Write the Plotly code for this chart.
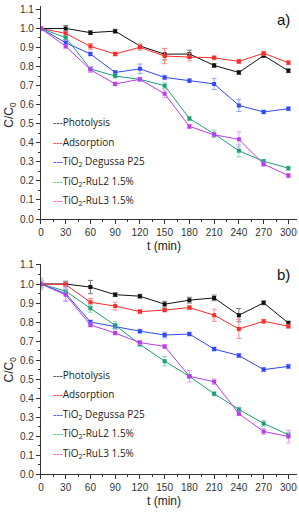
import plotly.graph_objects as go

t = [0, 30, 60, 90, 120, 150, 180, 210, 240, 270, 300]
x_ticks = [0, 30, 60, 90, 120, 150, 180, 210, 240, 270, 300]
y_ticks = [0.0, 0.1, 0.2, 0.3, 0.4, 0.5, 0.6, 0.7, 0.8, 0.9, 1.0, 1.1]

names = ["Photolysis", "Adsorption", "TiO<sub>2</sub> Degussa P25",
         "TiO<sub>2</sub>-RuL2 1.5%", "TiO<sub>2</sub>-RuL3 1.5%"]

# panel a)
a_photo = [1.0, 1.0, 0.978, 0.986, 0.908, 0.865, 0.866, 0.806, 0.769, 0.858, 0.778]
a_adsor = [1.0, 0.974, 0.906, 0.866, 0.901, 0.855, 0.85, 0.846, 0.827, 0.87, 0.82]
a_p25 = [1.0, 0.925, 0.866, 0.769, 0.788, 0.743, 0.726, 0.709, 0.596, 0.562, 0.579]
a_rul2 = [1.0, 0.952, 0.788, 0.75, 0.733, 0.70, 0.527, 0.447, 0.358, 0.303, 0.267]
a_rul3 = [1.0, 0.906, 0.784, 0.709, 0.733, 0.657, 0.486, 0.442, 0.418, 0.288, 0.228]
a_photo_err = [0.01, 0.015, 0.01, 0.01, 0.01, 0.03, 0.02, 0.01, 0.01, 0.01, 0.01]
a_adsor_err = [0.01, 0.01, 0.015, 0.01, 0.015, 0.04, 0.02, 0.01, 0.01, 0.01, 0.01]
a_p25_err = [0.01, 0.01, 0.01, 0.01, 0.025, 0.012, 0.01, 0.03, 0.032, 0.01, 0.01]
a_rul2_err = [0.01, 0.01, 0.01, 0.01, 0.01, 0.015, 0.01, 0.02, 0.032, 0.01, 0.01]
a_rul3_err = [0.01, 0.01, 0.015, 0.01, 0.01, 0.02, 0.01, 0.01, 0.04, 0.01, 0.01]

# panel b)
b_photo = [1.0, 1.0, 0.984, 0.944, 0.936, 0.894, 0.915, 0.927, 0.836, 0.901, 0.795]
b_adsor = [1.0, 0.997, 0.904, 0.884, 0.855, 0.863, 0.876, 0.836, 0.764, 0.804, 0.778]
b_p25 = [1.0, 0.95, 0.80, 0.775, 0.752, 0.732, 0.737, 0.658, 0.624, 0.55, 0.567]
b_rul2 = [1.0, 0.963, 0.872, 0.783, 0.683, 0.594, 0.515, 0.423, 0.341, 0.267, 0.208]
b_rul3 = [1.0, 0.943, 0.785, 0.742, 0.692, 0.672, 0.515, 0.486, 0.318, 0.225, 0.198]
b_photo_err = [0.01, 0.015, 0.035, 0.01, 0.01, 0.015, 0.015, 0.015, 0.035, 0.01, 0.01]
b_adsor_err = [0.01, 0.01, 0.02, 0.02, 0.01, 0.01, 0.01, 0.032, 0.05, 0.01, 0.01]
b_p25_err = [0.02, 0.04, 0.01, 0.01, 0.01, 0.015, 0.01, 0.01, 0.01, 0.01, 0.01]
b_rul2_err = [0.02, 0.01, 0.02, 0.02, 0.01, 0.025, 0.01, 0.01, 0.01, 0.015, 0.01]
b_rul3_err = [0.03, 0.03, 0.01, 0.01, 0.01, 0.01, 0.03, 0.015, 0.01, 0.015, 0.033]

line_colors = ["#111111", "#ff2a2a", "#3048ff", "#1f9e78", "#b83cf0"]
err_colors = ["#777777", "#ff8c8c", "#8fa0ff", "#8fdcb8", "#e29cf8"]
legend_colors = ["#333333", "#ff2020", "#2233ff", "#22cc55", "#ff33cc"]

FONT = "Liberation Sans, Arial, sans-serif"
W, H = 299, 514


def px(x):
    return x / W


def py(y):
    return 1 - y / H


fig = go.Figure()

panels = [
    ("x", "y", [a_photo, a_adsor, a_p25, a_rul2, a_rul3],
     [a_photo_err, a_adsor_err, a_p25_err, a_rul2_err, a_rul3_err]),
    ("x2", "y2", [b_photo, b_adsor, b_p25, b_rul2, b_rul3],
     [b_photo_err, b_adsor_err, b_p25_err, b_rul2_err, b_rul3_err]),
]
for xa, ya, series, errs in panels:
    for i, (vals, err) in enumerate(zip(series, errs)):
        fig.add_trace(go.Scatter(
            x=t, y=vals, xaxis=xa, yaxis=ya, mode="lines+markers",
            line=dict(color=line_colors[i], width=1),
            marker=dict(symbol="square", size=4, color=line_colors[i]),
            error_y=dict(type="data", array=err, color=err_colors[i],
                         thickness=1, width=2.5),
            showlegend=False, name=names[i]))

xdom = [px(38.3), px(296.6)]
dom_a = [py(218.7), py(0.6)]
dom_b = [py(479.5), py(264.7)]


def xaxis(anchor):
    return dict(domain=xdom, anchor=anchor, range=[0, 310], tickvals=x_ticks,
                ticks="outside", ticklen=4, tickwidth=1, tickcolor="#333",
                showline=True, linecolor="#333", linewidth=1, showgrid=False,
                zeroline=False, tickfont=dict(family=FONT, size=10, color="#333"),
                ticklabeloverflow="allow",
                minor=dict(tickvals=[v + 15 for v in x_ticks], ticks="outside",
                           ticklen=2, tickcolor="#333"))


def yaxis(anchor, dom, top):
    return dict(domain=dom, anchor=anchor, range=[0, top], tickvals=y_ticks,
                ticktext=[f"{v:.1f}" for v in y_ticks],
                ticks="outside", ticklen=4, tickwidth=1, tickcolor="#333",
                showline=True, linecolor="#333", linewidth=1, showgrid=False,
                zeroline=False, tickfont=dict(family=FONT, size=10, color="#333"),
                ticklabeloverflow="allow",
                minor=dict(tickvals=[v + 0.05 for v in y_ticks[:-1]], ticks="outside",
                           ticklen=2, tickcolor="#333"))


fig.update_layout(
    width=W, height=H, margin=dict(l=0, r=0, t=0, b=0),
    paper_bgcolor="white", plot_bgcolor="white", showlegend=False,
    xaxis=xaxis("y"), yaxis=yaxis("x", dom_a, 1.12),
    xaxis2=xaxis("y2"), yaxis2=yaxis("x2", dom_b, 1.105),
)

ann = []
for ytop, ycent, xlab_y, panel, plab_y in [(120, 111.6, 246, "a)", 15),
                                           (378, 372, 506.5, "b)", 275)]:
    for i, nm in enumerate(names):
        ann.append(dict(
            xref="paper", yref="paper", x=px(48), y=py(ytop + 20 * i),
            xanchor="left", yanchor="middle", showarrow=False,
            text=f'<span style="color:{legend_colors[i]}">---</span>{nm}',
            font=dict(family="Open Sans, sans-serif", size=10, color="#222")))
    ann.append(dict(xref="paper", yref="paper", x=px(7.5), y=py(ycent),
                    text="C/C<sub>0</sub>", textangle=-90, showarrow=False,
                    xanchor="center", yanchor="middle",
                    font=dict(family=FONT, size=12, color="#222")))
    ann.append(dict(xref="paper", yref="paper", x=px(163), y=py(xlab_y),
                    text="t (min)", showarrow=False, xanchor="center", yanchor="middle",
                    font=dict(family=FONT, size=12, color="#222")))
    ann.append(dict(xref="paper", yref="paper", x=px(283), y=py(plab_y),
                    text=panel, showarrow=False, xanchor="center", yanchor="middle",
                    font=dict(family=FONT, size=15, color="#111")))
fig.update_layout(annotations=ann)

fig.write_html("out.html",
               config={"displayModeBar": False},
               post_script="document.body.style.margin='0';"
                           "document.documentElement.style.overflow='hidden';")
